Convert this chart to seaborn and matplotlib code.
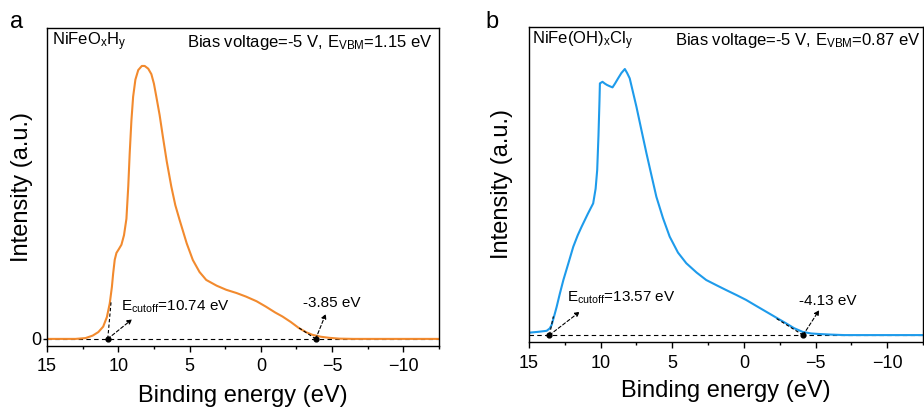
import numpy as np
import pandas as pd
import matplotlib
matplotlib.use("Agg")
import matplotlib.pyplot as plt
from matplotlib.ticker import MultipleLocator
import seaborn as sns

# ---- data ----
energy_a = [15.0, 13.0, 12.3, 11.8, 11.4, 11.06, 10.8, 10.6, 10.45, 10.36, 10.25, 10.13,
            9.95, 9.78, 9.6, 9.43, 9.3, 9.2, 9.08, 8.96, 8.8, 8.6, 8.35, 8.15, 7.9, 7.68,
            7.5, 7.33, 7.1, 6.87, 6.6, 6.28, 6.0, 5.7, 5.2, 4.77, 4.3, 3.83, 3.1, 2.43,
            1.7, 1.04, 0.3, -0.36, -1.0, -1.52, -2.1, -2.69, -3.2, -3.62, -4.2, -4.79,
            -5.5, -6.5, -12.5]
intensity_a = [0.0, 0.0, 0.003, 0.012, 0.025, 0.045, 0.08, 0.13, 0.19, 0.24, 0.29, 0.315,
               0.33, 0.345, 0.38, 0.44, 0.56, 0.68, 0.80, 0.887, 0.95, 0.985, 1.0, 1.0, 0.99, 0.97,
               0.935, 0.887, 0.82, 0.74, 0.65, 0.558, 0.49, 0.436, 0.35, 0.289, 0.245, 0.216, 0.195, 0.18,
               0.168, 0.155, 0.138, 0.118, 0.097, 0.082, 0.062, 0.039, 0.024, 0.015, 0.008, 0.004,
               0.001, 0.0, 0.0]

energy_b = [15.0, 14.4, 13.77, 13.55, 13.42, 13.25, 13.07, 12.85, 12.6, 12.25, 11.91, 11.6,
            11.33, 10.9, 10.52, 10.35, 10.24, 10.15, 10.08, 10.05, 9.87, 9.7, 9.55, 9.35, 9.17,
            9.0, 8.78, 8.55, 8.31, 8.15, 7.97, 7.75, 7.5, 7.15, 6.8, 6.45, 6.11, 5.65, 5.18,
            4.6, 4.02, 3.3, 2.63, 1.9, 1.23, 0.5, -0.16, -0.85, -1.55, -2.25, -2.95, -3.5,
            -4.1, -4.7, -5.26, -6.0, -7.0, -12.5]
intensity_b = [0.009, 0.012, 0.016, 0.025, 0.038, 0.07, 0.106, 0.155, 0.207, 0.27, 0.332, 0.375,
               0.407, 0.455, 0.495, 0.55, 0.62, 0.75, 0.88, 0.946, 0.952, 0.945, 0.94, 0.935, 0.931,
               0.945, 0.965, 0.985, 1.0, 0.985, 0.965, 0.915, 0.858, 0.77, 0.683, 0.60, 0.52, 0.44, 0.37,
               0.31, 0.27, 0.235, 0.207, 0.187, 0.169, 0.15, 0.132, 0.11, 0.088, 0.066, 0.044, 0.026,
               0.012, 0.006, 0.004, 0.002, 0.0, 0.0]

cutoff_a, vbm_edge_a = 10.74, -3.85
cutoff_b, vbm_edge_b = 13.57, -4.13
xticks = [15, 10, 5, 0, -5, -10]

# ---- styling ----
sns.set_theme(style="ticks")
plt.rcParams["font.family"] = ["Liberation Sans", "DejaVu Sans"]
plt.rcParams["mathtext.default"] = "regular"

fig = plt.figure(figsize=(9.24, 4.12), dpi=100)
ax_a = fig.add_axes([0.0509, 0.1602, 0.4242, 0.7718])
ax_b = fig.add_axes([0.5725, 0.1699, 0.4264, 0.7646])

orange = "#F28A2E"
blue = "#1E9BEB"


def style_axes(ax, ylim, show_zero):
    ax.set_xlim(15, -12.5)
    ax.set_ylim(*ylim)
    ax.set_xticks(xticks)
    ax.set_xticklabels([str(t) if t >= 0 else "\u2212" + str(-t) for t in xticks])
    ax.xaxis.set_minor_locator(MultipleLocator(2.5))
    ax.tick_params(axis="x", which="major", direction="out", length=4, width=1,
                   labelsize=13, colors="black", pad=5)
    ax.tick_params(axis="x", which="minor", direction="out", length=2.5, width=1, colors="black")
    if show_zero:
        ax.set_yticks([0])
        ax.set_yticklabels(["0"])
        ax.tick_params(axis="y", direction="out", length=3, width=1, labelsize=13, pad=1,
                       colors="black")
    else:
        ax.set_yticks([])
    for s in ax.spines.values():
        s.set_visible(True)
        s.set_color("black")
        s.set_linewidth(1.0)
    ax.set_xlabel("Binding energy (eV)", fontsize=17, color="black")
    ax.set_ylabel("Intensity (a.u.)", fontsize=17, color="black")
    ax.xaxis.set_label_coords(0.5, -0.122)


def draw_panel(ax, energy, intensity, color, cutoff, edge, tan_left, tan_right,
               head_left, head_right, txt_left, txt_right, cut_label, edge_label):
    ax.plot([15, -12.5], [0, 0], ls=(0, (4, 3)), color="black", lw=0.8, zorder=1)
    df = pd.DataFrame({"Binding energy": energy, "Intensity": intensity})
    sns.lineplot(data=df, x="Binding energy", y="Intensity", ax=ax, color=color,
                 lw=1.5, sort=False, estimator=None, zorder=2)
    # tangent segments
    ax.plot([cutoff, tan_left[0]], [0, tan_left[1]], ls=(0, (3, 2)), color="black", lw=0.8, zorder=3)
    ax.plot([edge, tan_right[0]], [0, tan_right[1]], ls=(0, (3, 2)), color="black", lw=0.8, zorder=3)
    ax.scatter([cutoff, edge], [0, 0], s=12, color="black", zorder=4)
    for start, head in ((cutoff, head_left), (edge, head_right)):
        ax.annotate("", xy=head, xytext=(start, 0),
                    arrowprops=dict(arrowstyle="-|>", ls=(0, (3, 2)), lw=0.8, color="black",
                                    mutation_scale=7, shrinkA=0, shrinkB=0), zorder=4)
    ax.text(txt_left[0], txt_left[1], cut_label, fontsize=11, ha="left", va="center", color="black")
    ax.text(txt_right[0], txt_right[1], edge_label, fontsize=11, ha="center", va="center", color="black")


draw_panel(ax_a, energy_a, intensity_a, orange, cutoff_a, vbm_edge_a,
           (10.5, 0.14), (-2.69, 0.04), (9.03, 0.072), (-4.56, 0.092),
           (9.83, 0.116), (-4.96, 0.131),
           r"E$_{cutoff}$=10.74 eV", "-3.85 eV")
draw_panel(ax_b, energy_b, intensity_b, blue, cutoff_b, vbm_edge_b,
           (13.3, 0.07), (-2.25, 0.063), (11.45, 0.088), (-5.26, 0.094),
           (12.37, 0.14), (-5.84, 0.128),
           r"E$_{cutoff}$=13.57 eV", "-4.13 eV")

style_axes(ax_a, (-0.026, 1.139), True)
style_axes(ax_b, (-0.026, 1.158), False)
ax_a.yaxis.set_label_coords(-0.036, 0.5)
ax_b.yaxis.set_label_coords(-0.041, 0.5)

ax_a.text(0.013, 0.956, r"NiFeO$_x$H$_y$", transform=ax_a.transAxes, fontsize=12,
          ha="left", va="center", color="black")
ax_a.text(0.985, 0.956, r"Bias voltage=-5 V, E$_{VBM}$=1.15 eV", transform=ax_a.transAxes,
          fontsize=12, ha="right", va="center", color="black")
ax_b.text(0.008, 0.957, r"NiFe(OH)$_x$Cl$_y$", transform=ax_b.transAxes, fontsize=12,
          ha="left", va="center", color="black")
ax_b.text(0.995, 0.957, r"Bias voltage=-5 V, E$_{VBM}$=0.87 eV", transform=ax_b.transAxes,
          fontsize=12, ha="right", va="center", color="black")

fig.text(0.018, 0.947, "a", fontsize=17, ha="center", va="center", color="black")
fig.text(0.532, 0.947, "b", fontsize=17, ha="center", va="center", color="black")

fig.savefig("out.png", dpi=100)
